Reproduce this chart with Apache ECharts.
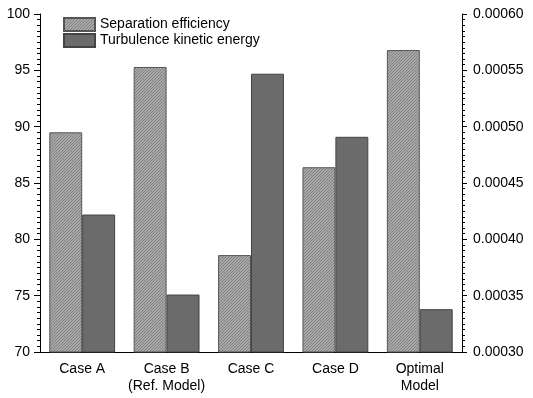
<!DOCTYPE html>
<html>
<head>
<meta charset="utf-8">
<script src="https://cdn.jsdelivr.net/npm/echarts@6/dist/echarts.min.js"></script>
<style>
  html, body { margin: 0; padding: 0; background: #fff; }
  #chart { width: 533px; height: 398px; }
</style>
</head>
<body>
<div id="chart"></div>
<script>
const categories = ['Case A', 'Case B\n(Ref. Model)', 'Case C', 'Case D', 'Optimal\nModel'];
const separationEfficiency = [89.5, 95.3, 78.6, 86.4, 96.8];
const turbulenceEnergy = [0.000422, 0.000351, 0.000547, 0.000491, 0.000338];

// diagonal hatch pattern for the light bars
function hatch(bg, line) {
  const c = document.createElement('canvas');
  c.width = 3; c.height = 3;
  const ctx = c.getContext('2d');
  ctx.fillStyle = bg;
  ctx.fillRect(0, 0, 3, 3);
  ctx.fillStyle = line;
  // one pixel per row, shifting -> diagonal stripes
  ctx.fillRect(2, 0, 1, 1);
  ctx.fillRect(1, 1, 1, 1);
  ctx.fillRect(0, 2, 1, 1);
  return c;
}

const chart = echarts.init(document.getElementById('chart'));
const font = 'Liberation Sans, Arial, sans-serif';
chart.setOption({
  animation: false,
  textStyle: { fontFamily: font },
  grid: { left: 40, right: 71, top: 14, bottom: 46 },
  legend: {
    orient: 'vertical',
    left: 63,
    top: 17,
    padding: 0,
    icon: 'rect',
    itemWidth: 31,
    itemHeight: 13,
    itemGap: 1,
    textStyle: { fontSize: 14, color: '#000', fontFamily: font },
    data: ['Separation efficiency', 'Turbulence kinetic energy']
  },
  xAxis: {
    type: 'category',
    data: categories,
    axisLine: { lineStyle: { color: '#000', width: 1 } },
    axisTick: { show: false },
    axisLabel: { color: '#000', fontSize: 14, lineHeight: 17, margin: 9, interval: 0 }
  },
  yAxis: [{
    type: 'value',
    min: 70, max: 100, interval: 5,
    axisLine: { show: true, lineStyle: { color: '#000' } },
    axisTick: { show: true, length: 6, lineStyle: { color: '#000' } },
    minorTick: { show: true, splitNumber: 10, length: 3, lineStyle: { color: '#000' } },
    splitLine: { show: false },
    axisLabel: { color: '#000', fontSize: 14, margin: 10 }
  }, {
    type: 'value',
    min: 0.0003, max: 0.0006, interval: 0.00005,
    axisLine: { show: true, lineStyle: { color: '#000' } },
    axisTick: { show: true, length: 5, lineStyle: { color: '#000' } },
    minorTick: { show: true, splitNumber: 10, length: 3, lineStyle: { color: '#000' } },
    splitLine: { show: false },
    axisLabel: {
      color: '#000', fontSize: 14, margin: 11,
      formatter: v => v.toFixed(5)
    }
  }],
  series: [{
    name: 'Separation efficiency',
    type: 'bar',
    yAxisIndex: 0,
    data: separationEfficiency,
    barGap: '0%',
    barCategoryGap: '22%',
    itemStyle: {
      color: { image: hatch('#a8a8a8', '#808080'), repeat: 'repeat' },
      borderColor: '#555',
      borderWidth: 1
    }
  }, {
    name: 'Turbulence kinetic energy',
    type: 'bar',
    yAxisIndex: 1,
    data: turbulenceEnergy,
    itemStyle: {
      color: '#6b6b6b',
      borderColor: '#444',
      borderWidth: 1
    }
  }]
});
</script>
</body>
</html>
